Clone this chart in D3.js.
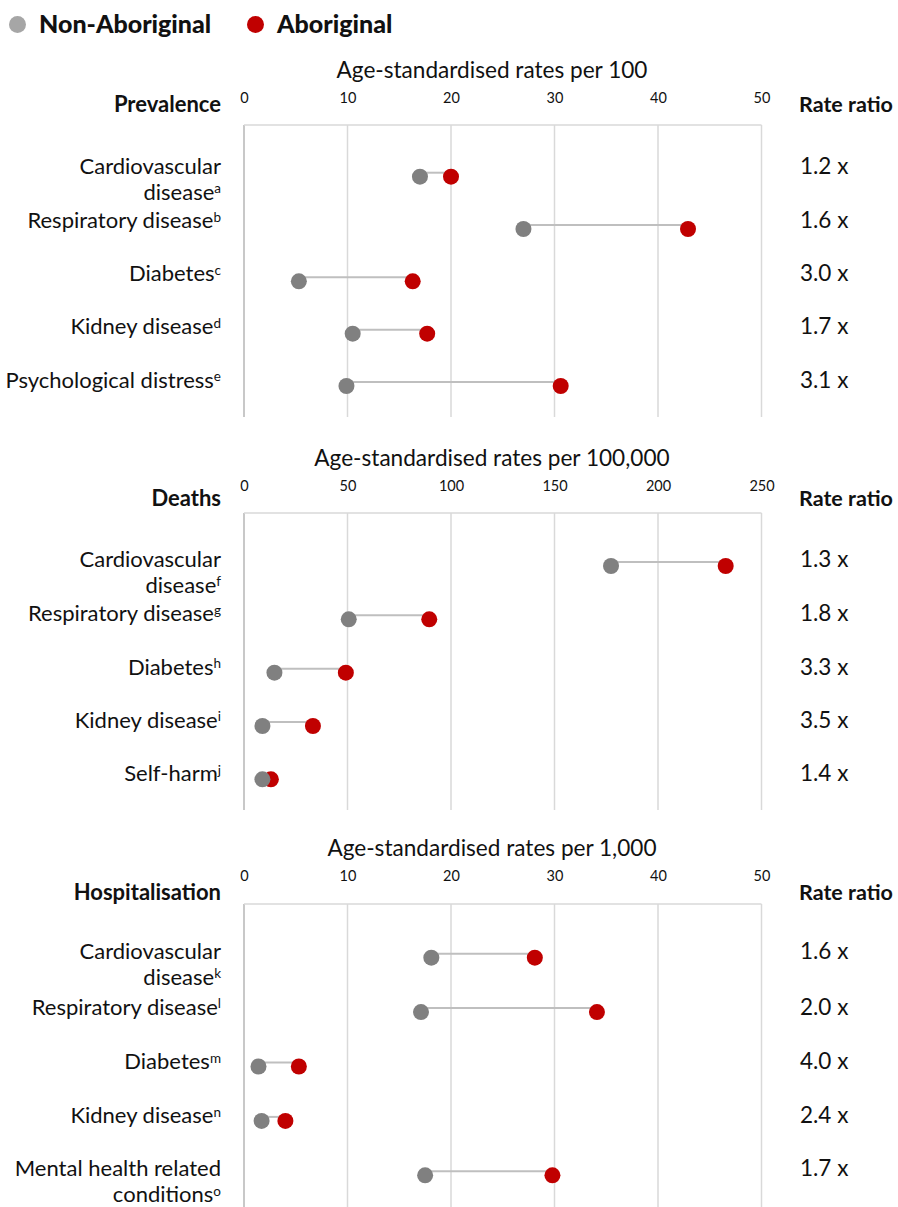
<!DOCTYPE html>
<html>
<head>
<meta charset="utf-8">
<script src="https://cdn.jsdelivr.net/npm/d3@7"></script>
<style>
  html, body { margin: 0; padding: 0; background: #ffffff; }
  svg { display: block; }
</style>
</head>
<body>
<div id="chart"></div>
<script>
// ---------------- DATA ----------------
const legendLabels = ["Non-Aboriginal", "Aboriginal"];

const prevalenceTitle = "Age-standardised rates per 100";
const prevalenceHeader = "Prevalence";
const prevalenceCategories = ["Cardiovascular\ndisease", "Respiratory disease", "Diabetes", "Kidney disease", "Psychological distress"];
const prevalenceNotes = ["a", "b", "c", "d", "e"];
const prevalenceNonAboriginal = [17.0, 27.0, 5.3, 10.5, 9.9];
const prevalenceAboriginal = [20.0, 42.9, 16.3, 17.7, 30.6];
const prevalenceRatios = ["1.2 x", "1.6 x", "3.0 x", "1.7 x", "3.1 x"];
const prevalenceTicks = [0, 10, 20, 30, 40, 50];

const deathsTitle = "Age-standardised rates per 100,000";
const deathsHeader = "Deaths";
const deathsCategories = ["Cardiovascular\ndisease", "Respiratory disease", "Diabetes", "Kidney disease", "Self-harm"];
const deathsNotes = ["f", "g", "h", "i", "j"];
const deathsNonAboriginal = [177.3, 50.6, 14.7, 8.9, 8.9];
const deathsAboriginal = [232.7, 89.5, 49.2, 33.3, 13.0];
const deathsRatios = ["1.3 x", "1.8 x", "3.3 x", "3.5 x", "1.4 x"];
const deathsTicks = [0, 50, 100, 150, 200, 250];

const hospTitle = "Age-standardised rates per 1,000";
const hospHeader = "Hospitalisation";
const hospCategories = ["Cardiovascular\ndisease", "Respiratory disease", "Diabetes", "Kidney disease", "Mental health related\nconditions"];
const hospNotes = ["k", "l", "m", "n", "o"];
const hospNonAboriginal = [18.1, 17.1, 1.4, 1.7, 17.5];
const hospAboriginal = [28.1, 34.1, 5.3, 4.0, 29.8];
const hospRatios = ["1.6 x", "2.0 x", "4.0 x", "2.4 x", "1.7 x"];
const hospTicks = [0, 10, 20, 30, 40, 50];

const ratioHeader = "Rate ratio";

// ---------------- LAYOUT / STYLE ----------------
const W = 898, H = 1207;
const colNon = "#808080", colAbo = "#C00000";
const gridCol = "#d9d9d9", linkCol = "#bfbfbf";
const FONT = "Lato, 'Noto Sans', sans-serif";
const plotLeft = 244, plotRight = 761.5;
const labelRight = 221, ratioX = 800;

const layouts = [
  { top: 125, bottom: 417, titleBase: 78, tickBase: 102.5, headBase: 112, rowFirst: 176.7, rowLast: 386, textFirst: -1.5, textLast: 1.5 },
  { top: 513, bottom: 810, titleBase: 466, tickBase: 491, headBase: 506, rowFirst: 566, rowLast: 779.3, textFirst: 2, textLast: 2 },
  { top: 904, bottom: 1207, titleBase: 856, tickBase: 881, headBase: 900, rowFirst: 957.7, rowLast: 1175.3, textFirst: 2.5, textLast: 2.5 }
];

const panels = [
  { title: prevalenceTitle, header: prevalenceHeader, cats: prevalenceCategories, notes: prevalenceNotes,
    non: prevalenceNonAboriginal, abo: prevalenceAboriginal, ratios: prevalenceRatios, ticks: prevalenceTicks },
  { title: deathsTitle, header: deathsHeader, cats: deathsCategories, notes: deathsNotes,
    non: deathsNonAboriginal, abo: deathsAboriginal, ratios: deathsRatios, ticks: deathsTicks },
  { title: hospTitle, header: hospHeader, cats: hospCategories, notes: hospNotes,
    non: hospNonAboriginal, abo: hospAboriginal, ratios: hospRatios, ticks: hospTicks }
];

const svg = d3.select("#chart").append("svg")
  .attr("width", W).attr("height", H)
  .attr("font-family", FONT);

svg.append("rect").attr("width", W).attr("height", H).attr("fill", "#fff");

// ---------------- LEGEND ----------------
const legend = svg.append("g").attr("class", "legend");
const legendPos = [{ cx: 17.5, tx: 39 }, { cx: 255.5, tx: 277 }];
[colNon, colAbo].forEach((c, i) => {
  legend.append("circle").attr("cx", legendPos[i].cx).attr("cy", 24.5).attr("r", 8.5).attr("fill", c === colNon ? "#a6a6a6" : c);
  legend.append("text").attr("x", legendPos[i].tx).attr("y", 33)
    .attr("font-size", 25).attr("font-weight", 900).attr("fill", "#111")
    .text(legendLabels[i]);
});

// ---------------- PANELS ----------------
panels.forEach((p, pi) => {
  const L = layouts[pi];
  const g = svg.append("g").attr("class", "panel");
  const x = d3.scaleLinear()
    .domain([p.ticks[0], p.ticks[p.ticks.length - 1]])
    .range([plotLeft, plotRight]);
  const y = d3.scalePoint().domain(p.cats).range([L.rowFirst, L.rowLast]);
  // small vertical text offset that drifts across rows (as in the original)
  const off = d3.scaleLinear().domain([L.rowFirst, L.rowLast]).range([L.textFirst, L.textLast]);

  // title
  g.append("text").attr("x", 492).attr("y", L.titleBase)
    .attr("text-anchor", "middle").attr("font-size", 22.6).attr("fill", "#111")
    .text(p.title);

  // tick labels via axis
  const axis = d3.axisTop(x).tickValues(p.ticks).tickSize(0).tickPadding(0).tickFormat(d3.format("d"));
  const ax = g.append("g").attr("transform", `translate(0,${L.tickBase})`).call(axis);
  ax.select(".domain").remove();
  ax.selectAll("text").attr("font-family", FONT).attr("font-size", 14.5).attr("fill", "#111")
    .attr("dy", 0).attr("y", 0);

  // gridlines
  g.append("g").selectAll("line").data(p.ticks).join("line")
    .attr("x1", d => x(d)).attr("x2", d => x(d))
    .attr("y1", L.top).attr("y2", L.bottom)
    .attr("stroke", (d, i) => i === 0 ? "#c8c8c8" : gridCol)
    .attr("stroke-width", (d, i) => i === 0 ? 2 : 1.5);
  // top border
  g.append("line").attr("x1", x(p.ticks[0])).attr("x2", x(p.ticks[p.ticks.length - 1]))
    .attr("y1", L.top).attr("y2", L.top).attr("stroke", gridCol).attr("stroke-width", 1.5);

  // headers
  g.append("text").attr("x", labelRight).attr("y", L.headBase)
    .attr("text-anchor", "end").attr("font-size", 22).attr("font-weight", 700).attr("fill", "#111")
    .text(p.header);
  g.append("text").attr("x", ratioX - 1).attr("y", L.headBase)
    .attr("font-size", 21.5).attr("font-weight", 700).attr("fill", "#111")
    .text(ratioHeader);

  const rows = p.cats.map((c, i) => ({ cat: c, note: p.notes[i], non: p.non[i], abo: p.abo[i], ratio: p.ratios[i] }));

  // category labels
  rows.forEach(r => {
    const lines = r.cat.split("\n");
    const yy = y(r.cat);
    const base = yy + off(yy) - (lines.length > 1 ? 1.5 : 0);
    lines.forEach((ln, li) => {
      const t = g.append("text").attr("x", labelRight).attr("y", base + li * 26)
        .attr("text-anchor", "end").attr("font-size", 22).attr("fill", "#111");
      t.append("tspan").text(ln);
      if (li === lines.length - 1) {
        t.append("tspan").attr("font-size", 13.5).attr("dy", -6.5).text(r.note);
      }
    });
  });

  // ratios
  g.append("g").selectAll("text").data(rows).join("text")
    .attr("x", ratioX).attr("y", d => y(d.cat) + off(y(d.cat)) - (d.cat.includes("\n") ? 1.5 : 0))
    .attr("font-size", 22.5).attr("fill", "#111")
    .text(d => d.ratio);

  // connectors
  g.append("g").selectAll("line").data(rows).join("line")
    .attr("x1", d => x(d.non)).attr("x2", d => x(d.abo))
    .attr("y1", d => y(d.cat) - 4).attr("y2", d => y(d.cat) - 4)
    .attr("stroke", linkCol).attr("stroke-width", 2);

  // dots: Aboriginal then Non-Aboriginal (on top)
  g.append("g").selectAll("circle").data(rows).join("circle")
    .attr("cx", d => x(d.abo)).attr("cy", d => y(d.cat)).attr("r", 8)
    .attr("fill", colAbo);
  g.append("g").selectAll("circle").data(rows).join("circle")
    .attr("cx", d => x(d.non)).attr("cy", d => y(d.cat)).attr("r", 8)
    .attr("fill", colNon);
});
</script>
</body>
</html>
